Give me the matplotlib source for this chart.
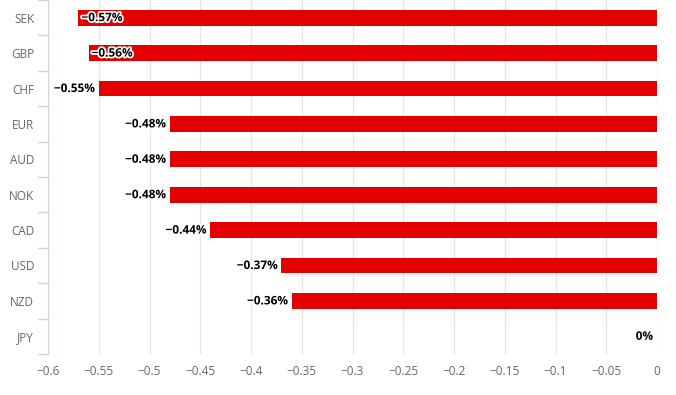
import matplotlib.pyplot as plt
import matplotlib.patheffects as pe

# Datos
monedas = ['SEK', 'GBP', 'CHF', 'EUR', 'AUD', 'NOK', 'CAD', 'USD', 'NZD', 'JPY']
valores = [-0.57, -0.56, -0.55, -0.48, -0.48, -0.48, -0.44, -0.37, -0.36, 0.0]
etiquetas = ['\u22120.57%', '\u22120.56%', '\u22120.55%', '\u22120.48%', '\u22120.48%',
             '\u22120.48%', '\u22120.44%', '\u22120.37%', '\u22120.36%', '0%']
ticks_x = [-0.6, -0.55, -0.5, -0.45, -0.4, -0.35, -0.3, -0.25, -0.2, -0.15, -0.1, -0.05, 0]
labels_x = ['\u22120.6', '\u22120.55', '\u22120.5', '\u22120.45', '\u22120.4', '\u22120.35',
            '\u22120.3', '\u22120.25', '\u22120.2', '\u22120.15', '\u22120.1', '\u22120.05', '0']

plt.rcParams['font.family'] = ['Open Sans', 'DejaVu Sans']

fig = plt.figure(figsize=(6.76, 3.95), dpi=100)
ax = fig.add_axes([48 / 676, 41 / 395, 609 / 676, 354 / 395])

pos = list(range(len(monedas)))
ax.barh(pos, valores, height=0.45, color='#e30000', zorder=3)

ax.set_xlim(-0.6, 0)
ax.set_ylim(len(monedas) - 0.5, -0.5)

ax.set_xticks(ticks_x)
ax.set_xticklabels(labels_x, fontsize=8.5, color='#666666')
ax.tick_params(axis='x', length=0, pad=8)

ax.set_yticks(pos)
ax.set_yticklabels(monedas, fontsize=8.5, color='#666666')
ax.tick_params(axis='y', length=0, pad=10)
# marcas entre categorias
trans = ax.get_yaxis_transform()
for b in [p - 0.5 for p in pos] + [len(monedas) - 0.5]:
    ax.plot([-10 / 609, 0], [b, b], color='#ccd6eb', lw=1, clip_on=False,
            zorder=4, transform=trans)

ax.grid(axis='x', color='#e6e6e6', lw=1, zorder=0)
for s in ['top', 'right', 'bottom']:
    ax.spines[s].set_visible(False)
ax.spines['left'].set_color('#ccd6eb')
ax.spines['left'].set_zorder(5)

halo = [pe.withStroke(linewidth=2.5, foreground='white')]
for p, v, t in zip(pos, valores, etiquetas):
    if v < -0.555:
        ax.text(v + 0.003, p, t, ha='left', va='center', fontsize=8.5, fontweight='bold',
                color='black', path_effects=halo, zorder=6)
    else:
        ax.text(v - 0.004, p, t, ha='right', va='center', fontsize=8.5, fontweight='bold',
                color='black', path_effects=halo, zorder=6)

fig.savefig('out.png', dpi=100)
